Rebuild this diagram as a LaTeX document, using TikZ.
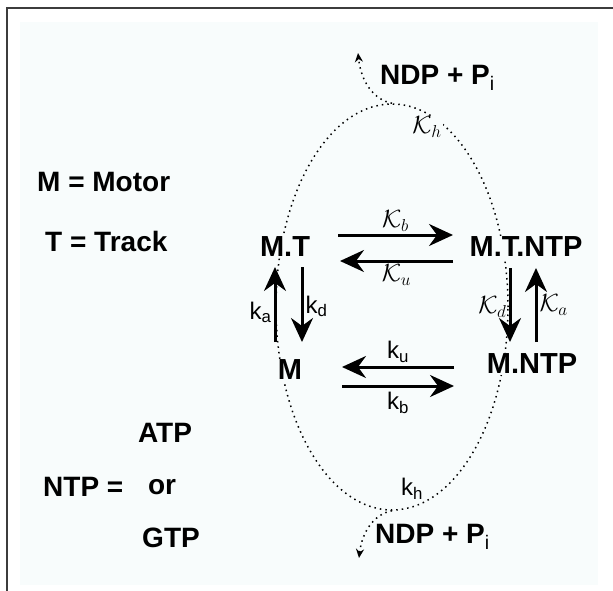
\documentclass[tikz,border=0pt]{standalone}
\usepackage{fontspec}
\setmainfont{Liberation Sans}
\usetikzlibrary{
	arrows.meta,
	calc,
	shapes.geometric
}
\definecolor{PaleBg}{RGB}{248,252,252}
\definecolor{FrameGray}{RGB}{60,60,60}

\begin{document}
\begin{tikzpicture}[x=1pt, y=-1pt,
		species/.style={font=\fontsize{29}{32}\selectfont\bfseries, fill=PaleBg, inner sep=1pt},
		legend/.style={font=\fontsize{28}{32}\selectfont\bfseries, inner sep=0pt},
		rate/.style={font=\fontsize{24}{28}\selectfont, inner sep=1pt},
		bigarrow/.style={line width=3pt, -{Stealth[length=24pt,width=22pt,inset=8pt]}},
		cyclearrow/.style={line width=1.5pt, dash pattern=on 1.5pt off 4pt, -{Stealth[length=9pt,width=8pt]}}]
			\useasboundingbox (0,0) rectangle (613,591);
			\fill[white] (0,0) rectangle (613,591);
			\fill[PaleBg] (20,22) rectangle (598,585);
			\draw[line width=1.5pt, FrameGray] (7,591) -- (7,8) -- (613,8);
			% hydrolysis cycle
			\node[ellipse, draw, line width=1.5pt, dash pattern=on 1.5pt off 4pt, minimum width=232pt, minimum height=406pt, inner sep=0pt] (cycle) at (392,307) {};
			\coordinate (TopOut) at (358,53);
			\coordinate (BotOut) at (359,558);
			\draw[cyclearrow] (cycle.north) .. controls (374,100) and (361,82) .. (TopOut);
			\draw[cyclearrow] (cycle.south) .. controls (374,514) and (362,532) .. (BotOut);
			\node[legend, anchor=west] (TopProd) at (380,78) {NDP + P\textsubscript{\mdseries i}};
			\node[legend, anchor=west] (BotProd) at (375,537) {NDP + P\textsubscript{\mdseries i}};
			\node[rate, fill=PaleBg] (Kh) at (427,127) {$\mathcal{K}_h$};
			\node[rate, fill=PaleBg] (kh) at (412,489) {k\textsubscript{h}};
			% states
			\node[species] (MT) at (285,247) {M.T};
			\node[species] (MTN) at (526,247) {M.T.NTP};
			\node[species] (M) at (290,370) {M};
			\node[species] (MN) at (532,364) {M.NTP};
			% binding / release of the track
			\draw[bigarrow] ($(MT)+(53,-12)$) -- ($(MTN)+(-73,-12)$) node[rate, midway, above=1pt] {$\mathcal{K}_b$};
			\draw[bigarrow] ($(MTN)+(-73,14)$) -- ($(MT)+(55,14)$) node[rate, midway, below=1pt] {$\mathcal{K}_u$};
			\draw[bigarrow] ($(MN)+(-78,3)$) -- ($(M)+(52,-3)$) node[rate, midway, above=2pt] {k\textsubscript{u}};
			\draw[bigarrow] ($(M)+(52,16)$) -- ($(MN)+(-78,22)$) node[rate, midway, below=4pt] {k\textsubscript{b}};
			\draw[bigarrow] ($(M)+(-15,-28)$) -- ($(MT)+(-10,20)$) node[rate, midway, left=1pt, yshift=-8pt] {k\textsubscript{a}};
			\draw[bigarrow] ($(MT)+(17,20)$) -- ($(M)+(12,-28)$) node[rate, midway, right=1pt, yshift=-2pt] {k\textsubscript{d}};
			\draw[bigarrow] ($(MTN)+(-16,21)$) -- ($(MN)+(-22,-22)$) node[rate, midway, left=1pt, yshift=-2pt] {$\mathcal{K}_d$};
			\draw[bigarrow] ($(MN)+(4,-22)$) -- ($(MTN)+(10,21)$) node[rate, midway, right=1pt] {$\mathcal{K}_a$};
			% legend
			\node[legend, anchor=west] (LegM) at (37,182) {M = Motor};
			\node[legend, anchor=west] (LegT) at (45,241) {T = Track};
			\node[legend, anchor=west] (LegNTP) at (43,487) {NTP =};
			\node[legend] (LegATP) at (165,433) {ATP};
			\node[legend] (LegOr) at (162,487) {or};
			\node[legend] (LegGTP) at (171,538) {GTP};
		\end{tikzpicture}
\end{document}
